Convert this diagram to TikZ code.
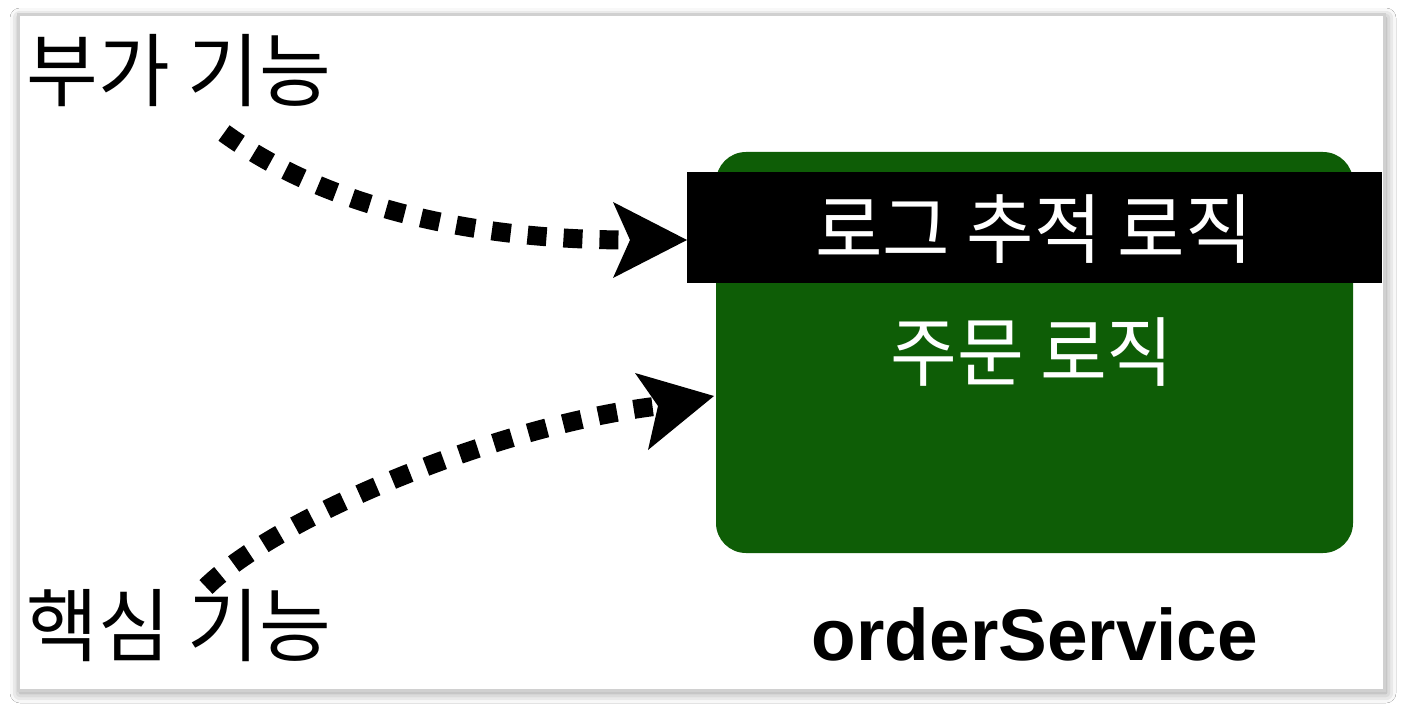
\documentclass[tikz,border=0pt]{standalone}
\usepackage{fontspec}
\newfontfamily\kr{Noto Sans CJK KR}
\newfontfamily\lsans{Liberation Sans}
\usetikzlibrary{calc,shadows.blur}
\definecolor{boxgreen}{RGB}{14,93,6}
\definecolor{framegray}{RGB}{208,208,208}
\tikzset{
  krlabel/.style={inner sep=0pt, text=black},
  whitelabel/.style={inner sep=0pt, text=white},
  dotline/.style={line width=19pt, line cap=butt, dash pattern=on 19pt off 17pt, draw=black},
  headfill/.style={fill=black, draw=none},
}
\begin{document}
\begin{tikzpicture}[x=1pt,y=-1pt]
\useasboundingbox (0,0) rectangle (1402,708);
\fill[white] (0,0) rectangle (1402,708);
% frame with shadow
\begin{scope}
\path[fill=white, draw=framegray, line width=3pt,
  blur shadow={shadow xshift=2pt, shadow yshift=-3pt, shadow blur radius=10pt, shadow opacity=45}]
  (18,15) rectangle (1384,690);
\end{scope}
% green box
\node[fill=boxgreen, rounded corners=30pt, minimum width=637pt, minimum height=401pt, inner sep=0pt]
  (order) at (1034.5,352.5) {};
% black bar
\node[fill=black, minimum width=695pt, minimum height=111pt, inner sep=0pt] (log) at (1034.5,227.5) {};
\node[whitelabel] (logtxt) at (1034,229) {\scalebox{0.965}[1]{\kr\fontsize{76}{76}\selectfont 로그 추적 로직}};
\node[whitelabel] (ordtxt) at (1032,352) {\scalebox{0.955}[1]{\kr\fontsize{76}{76}\selectfont 주문 로직}};
% labels
\node[krlabel] (aux) at (179,71) {\scalebox{0.975}[1]{\kr\fontsize{80}{80}\selectfont 부가 기능}};
\node[krlabel] (core) at (179,626) {\scalebox{0.975}[1]{\kr\fontsize{80}{80}\selectfont 핵심 기능}};
\node[krlabel] (svc) at (1035,634) {\lsans\bfseries\fontsize{73}{73}\selectfont orderService};
% arrow 1 (부가 기능 -> 로그 추적 로직)
\coordinate (s1) at (224,133);
\coordinate (t1) at (687,240);
\coordinate (n1) at (630,240);
\coordinate (b1a) at (613,202);
\coordinate (b1b) at (613,278);
\draw[dotline] (s1) .. controls (330,210) and (480,240) .. (n1);
\fill[headfill] (t1) -- (b1a) -- (n1) -- (b1b) -- cycle;
% arrow 2 (핵심 기능 -> 주문 로직)
\coordinate (s2) at (206,587);
\coordinate (t2) at (714,396);
\coordinate (n2) at (658,406);
\coordinate (b2a) at (635,373);
\coordinate (b2b) at (648,450);
\draw[dotline] (s2) .. controls (280,515) and (500,425) .. (n2);
\fill[headfill] (t2) -- (b2a) -- (n2) -- (b2b) -- cycle;
\end{tikzpicture}
\end{document}
